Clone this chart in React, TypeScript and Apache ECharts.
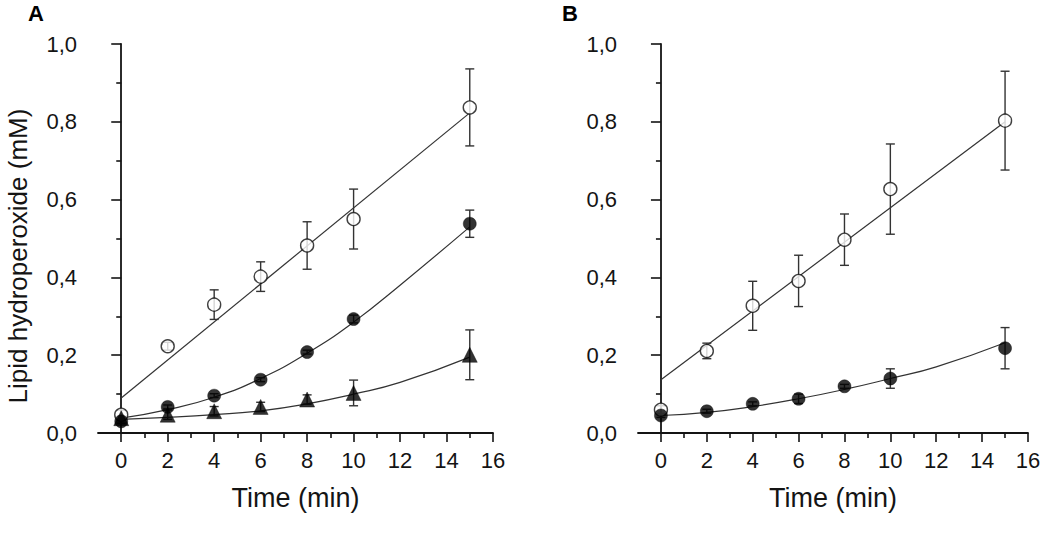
import React, { useEffect, useRef } from "react";
import * as echarts from "echarts";

// ---- data ----
const times = [0, 2, 4, 6, 8, 10, 15];

// Panel A
const aOpen = [0.047, 0.223, 0.33, 0.402, 0.482, 0.55, 0.837];
const aOpenErr = [0.012, 0.01, 0.038, 0.038, 0.061, 0.077, 0.099];
const aFilled = [0.03, 0.067, 0.096, 0.137, 0.208, 0.293, 0.538];
const aFilledErr = [0.005, 0.005, 0.005, 0.005, 0.005, 0.01, 0.035];
const aTri = [0.038, 0.047, 0.056, 0.067, 0.086, 0.103, 0.201];
const aTriErr = [0.005, 0.012, 0.012, 0.012, 0.012, 0.033, 0.064];

// Panel B
const bOpen = [0.06, 0.211, 0.327, 0.391, 0.497, 0.627, 0.803];
const bOpenErr = [0.01, 0.02, 0.063, 0.066, 0.066, 0.116, 0.127];
const bFilled = [0.045, 0.056, 0.075, 0.088, 0.12, 0.14, 0.218];
const bFilledErr = [0.005, 0.005, 0.005, 0.012, 0.005, 0.025, 0.053];

// Fitted curves
const fitLineX = [0, 15];
const aOpenFit = [0.09, 0.823];
const bOpenFit = [0.137, 0.8];
const fitCurveX = [0, 2, 4, 6, 8, 10, 12, 15];
const aFilledFit = [0.038, 0.06, 0.092, 0.14, 0.205, 0.285, 0.38, 0.53];
const aTriFit = [0.035, 0.04, 0.047, 0.057, 0.075, 0.1, 0.13, 0.195];
const bFilledFit = [0.045, 0.053, 0.068, 0.088, 0.112, 0.14, 0.17, 0.232];

// Axis ticks
const xMajor = [0, 2, 4, 6, 8, 10, 12, 14, 16];
const xMinor = [1, 3, 5, 7, 9, 11, 13, 15];
const yTitle = "Lipid hydroperoxide (mM)";
const xTitle = "Time (min)";

const FONT = "'Liberation Sans', Arial, sans-serif";
const INK = "#141414";

function pairs(xs: number[], ys: number[]) {
  return xs.map((x, i) => [x, ys[i]]);
}
function errData(ys: number[], es: number[]) {
  return times.map((t, i) => [t, ys[i] - es[i], ys[i] + es[i]]);
}

function errSeries(data: number[][], gi: number) {
  return {
    type: "custom",
    xAxisIndex: gi,
    yAxisIndex: gi,
    z: 3,
    data,
    encode: { x: 0, y: [1, 2] },
    renderItem: (_params: any, api: any) => {
      const x = api.value(0);
      const lo = api.coord([x, api.value(1)]);
      const hi = api.coord([x, api.value(2)]);
      const w = 4.5;
      const st = { stroke: "#333", lineWidth: 1.4 };
      return {
        type: "group",
        children: [
          { type: "line", shape: { x1: lo[0], y1: lo[1], x2: hi[0], y2: hi[1] }, style: st },
          { type: "line", shape: { x1: lo[0] - w, y1: lo[1], x2: lo[0] + w, y2: lo[1] }, style: st },
          { type: "line", shape: { x1: hi[0] - w, y1: hi[1], x2: hi[0] + w, y2: hi[1] }, style: st },
        ],
      };
    },
  };
}

function fitSeries(xs: number[], ys: number[], gi: number, smooth: boolean) {
  return {
    type: "line",
    xAxisIndex: gi,
    yAxisIndex: gi,
    data: pairs(xs, ys),
    smooth,
    symbol: "none",
    z: 2,
    lineStyle: { color: "#333", width: 1.2 },
  };
}

function markerSeries(ys: number[], gi: number, kind: "open" | "filled" | "tri") {
  return {
    type: "scatter",
    xAxisIndex: gi,
    yAxisIndex: gi,
    data: pairs(times, ys),
    symbol: kind === "tri" ? "triangle" : "circle",
    symbolSize: kind === "tri" ? 15 : 13,
    z: kind === "open" ? 4 : 5,
    itemStyle:
      kind === "open"
        ? { color: "#fff", borderColor: "#111", borderWidth: 1.4 }
        : { color: "#000", borderColor: "#000", borderWidth: 0.5 },
  };
}

function mainX(gi: number) {
  return {
    type: "value",
    gridIndex: gi,
    position: "bottom",
    min: -1,
    max: 16,
    name: xTitle,
    nameLocation: "middle",
    nameGap: 51,
    nameTextStyle: { fontFamily: FONT, fontSize: 27, color: INK },
    axisLine: { show: true, lineStyle: { color: INK, width: 1.8 } },
    axisTick: { show: true, customValues: xMajor, length: 9, lineStyle: { color: INK, width: 1.6 } },
    axisLabel: {
      show: true,
      customValues: xMajor,
      margin: 16,
      fontFamily: FONT,
      fontSize: 22,
      color: INK,
    },
    splitLine: { show: false },
  };
}

function minorX(gi: number) {
  return {
    type: "value",
    gridIndex: gi,
    position: "bottom",
    min: -1,
    max: 16,
    axisLine: { show: false },
    axisTick: { show: true, customValues: xMinor, length: 5, lineStyle: { color: INK, width: 1.6 } },
    axisLabel: { show: false },
    splitLine: { show: false },
  };
}

function mainY(gi: number) {
  return {
    type: "value",
    gridIndex: gi,
    min: 0,
    max: 1,
    interval: 0.2,
    axisLine: { show: true, lineStyle: { color: INK, width: 1.8 } },
    axisTick: { show: true, length: 10, lineStyle: { color: INK, width: 1.6 } },
    minorTick: { show: true, splitNumber: 2, length: 5, lineStyle: { color: INK, width: 1.6 } },
    axisLabel: {
      margin: 21,
      fontFamily: FONT,
      fontSize: 22,
      color: INK,
      formatter: (v: number) => v.toFixed(1).replace(".", ","),
    },
    splitLine: { show: false },
  };
}

export default function App() {
  const ref = useRef<HTMLDivElement>(null);
  useEffect(() => {
    if (!ref.current) return;
    const chart = echarts.init(ref.current, undefined, { renderer: "svg" });
    chart.setOption({
      animation: false,
      backgroundColor: "#fff",
      grid: [
        { left: 98, right: 557, top: 44, bottom: 101 },
        { left: 638, right: 22, top: 44, bottom: 101 },
      ],
      xAxis: [mainX(0), mainX(1), minorX(0), minorX(1)],
      yAxis: [mainY(0), mainY(1)],
      graphic: [
        {
          type: "text",
          left: 28,
          top: 2,
          style: { text: "A", fontFamily: FONT, fontWeight: "bold", fontSize: 22, fill: "#000" },
        },
        {
          type: "text",
          left: 562,
          top: 2,
          style: { text: "B", fontFamily: FONT, fontWeight: "bold", fontSize: 22, fill: "#000" },
        },
        {
          type: "text",
          x: 18,
          y: 256,
          rotation: Math.PI / 2,
          style: {
            text: yTitle,
            fontFamily: FONT,
            fontSize: 26,
            fill: INK,
            align: "center",
            verticalAlign: "middle",
          },
        },
      ],
      series: [
        fitSeries(fitLineX, aOpenFit, 0, false),
        fitSeries(fitCurveX, aFilledFit, 0, true),
        fitSeries(fitCurveX, aTriFit, 0, true),
        fitSeries(fitLineX, bOpenFit, 1, false),
        fitSeries(fitCurveX, bFilledFit, 1, true),
        errSeries(errData(aOpen, aOpenErr), 0),
        errSeries(errData(aFilled, aFilledErr), 0),
        errSeries(errData(aTri, aTriErr), 0),
        errSeries(errData(bOpen, bOpenErr), 1),
        errSeries(errData(bFilled, bFilledErr), 1),
        markerSeries(aOpen, 0, "open"),
        markerSeries(aFilled, 0, "filled"),
        markerSeries(aTri, 0, "tri"),
        markerSeries(bOpen, 1, "open"),
        markerSeries(bFilled, 1, "filled"),
      ],
    });
    return () => chart.dispose();
  }, []);
  return <div ref={ref} style={{ width: 1050, height: 534, position: "absolute", left: 0, top: 0 }} />;
}
